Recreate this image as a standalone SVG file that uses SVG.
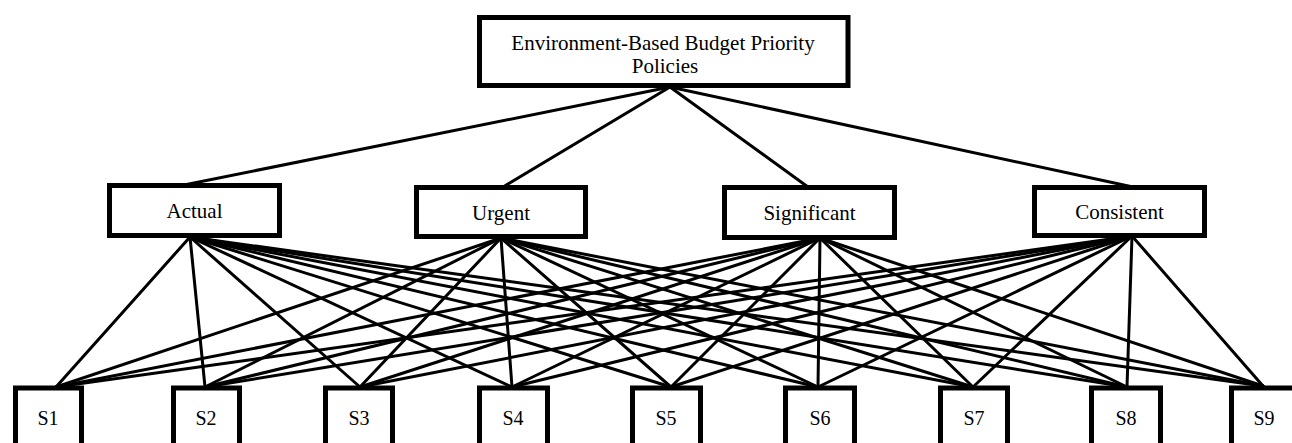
<svg xmlns="http://www.w3.org/2000/svg" width="1292" height="443" viewBox="0 0 1292 443">
<style>
.box{fill:#fff;stroke:#000;stroke-width:5}
.lbl{font-family:"Liberation Serif","Times New Roman",serif;font-size:21px;fill:#000;text-anchor:middle}
.s{font-size:20px}
#connectors line{stroke:#000;stroke-width:3;stroke-linecap:round}
</style>
<rect x="0" y="0" width="1292" height="443" fill="#fff"/>
<g id="connectors">
<line x1="670" y1="87" x2="184" y2="185"/>
<line x1="670" y1="87" x2="503" y2="187"/>
<line x1="670" y1="87" x2="808" y2="187"/>
<line x1="670" y1="87" x2="1133" y2="187"/>
<!-- Actual -->
<line x1="190" y1="237" x2="56" y2="387"/>
<line x1="190" y1="237" x2="205" y2="387"/>
<line x1="190" y1="237" x2="360" y2="387"/>
<line x1="190" y1="237" x2="512" y2="387"/>
<line x1="190" y1="237" x2="671" y2="387"/>
<line x1="190" y1="237" x2="818" y2="387"/>
<line x1="190" y1="237" x2="973" y2="387"/>
<line x1="190" y1="237" x2="1127" y2="387"/>
<line x1="190" y1="237" x2="1263" y2="386"/>
<!-- Urgent -->
<line x1="501" y1="238" x2="56" y2="387"/>
<line x1="501" y1="238" x2="205" y2="387"/>
<line x1="501" y1="238" x2="360" y2="387"/>
<line x1="501" y1="238" x2="512" y2="387"/>
<line x1="501" y1="238" x2="671" y2="387"/>
<line x1="501" y1="238" x2="818" y2="387"/>
<line x1="501" y1="238" x2="973" y2="387"/>
<line x1="501" y1="238" x2="1127" y2="387"/>
<line x1="501" y1="238" x2="1263" y2="386"/>
<!-- Significant -->
<line x1="820" y1="238" x2="56" y2="387"/>
<line x1="820" y1="238" x2="205" y2="387"/>
<line x1="820" y1="238" x2="360" y2="387"/>
<line x1="820" y1="238" x2="512" y2="387"/>
<line x1="820" y1="238" x2="671" y2="387"/>
<line x1="820" y1="238" x2="818" y2="387"/>
<line x1="820" y1="238" x2="973" y2="387"/>
<line x1="820" y1="238" x2="1127" y2="387"/>
<line x1="820" y1="238" x2="1263" y2="386"/>
<!-- Consistent -->
<line x1="1132" y1="236" x2="56" y2="387"/>
<line x1="1132" y1="236" x2="205" y2="387"/>
<line x1="1132" y1="236" x2="360" y2="387"/>
<line x1="1132" y1="236" x2="512" y2="387"/>
<line x1="1132" y1="236" x2="671" y2="387"/>
<line x1="1132" y1="236" x2="818" y2="387"/>
<line x1="1132" y1="236" x2="973" y2="387"/>
<line x1="1132" y1="236" x2="1127" y2="387"/>
<line x1="1132" y1="236" x2="1263" y2="386"/>
</g>
<g id="goal">
<rect class="box" x="479.5" y="17.5" width="368.5" height="68"/>
<text class="lbl" x="663" y="50">Environment-Based Budget Priority</text>
<text class="lbl" x="665" y="73">Policies</text>
</g>
<g id="actual">
<rect class="box" x="109.5" y="185.5" width="170" height="50"/>
<text class="lbl" x="194.5" y="218">Actual</text>
</g>
<g id="urgent">
<rect class="box" x="416.5" y="187.5" width="169" height="49"/>
<text class="lbl" x="501" y="220">Urgent</text>
</g>
<g id="significant">
<rect class="box" x="724.5" y="187.5" width="170" height="50"/>
<text class="lbl" x="809.5" y="220">Significant</text>
</g>
<g id="consistent">
<rect class="box" x="1034.5" y="187.5" width="170" height="48"/>
<text class="lbl" x="1119.5" y="219">Consistent</text>
</g>
<g id="s1"><rect class="box" x="15.5" y="388" width="66" height="70"/><text class="lbl s" x="48" y="425">S1</text></g>
<g id="s2"><rect class="box" x="173.5" y="388" width="66" height="70"/><text class="lbl s" x="206" y="425">S2</text></g>
<g id="s3"><rect class="box" x="325.5" y="388" width="67" height="70"/><text class="lbl s" x="359" y="425">S3</text></g>
<g id="s4"><rect class="box" x="479.5" y="388" width="68" height="70"/><text class="lbl s" x="513" y="425">S4</text></g>
<g id="s5"><rect class="box" x="632.5" y="388" width="68" height="70"/><text class="lbl s" x="666" y="425">S5</text></g>
<g id="s6"><rect class="box" x="785.5" y="388" width="69" height="70"/><text class="lbl s" x="820" y="425">S6</text></g>
<g id="s7"><rect class="box" x="940.5" y="388" width="67" height="70"/><text class="lbl s" x="974" y="425">S7</text></g>
<g id="s8"><rect class="box" x="1091.5" y="388" width="69" height="70"/><text class="lbl s" x="1126" y="425">S8</text></g>
<g id="s9"><rect class="box" x="1231.5" y="388" width="70" height="70"/><text class="lbl s" x="1264" y="425">S9</text></g>
</svg>
